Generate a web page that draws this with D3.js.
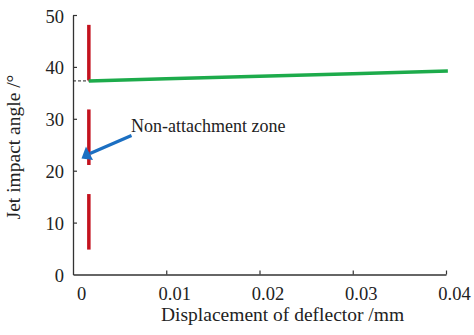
<!DOCTYPE html>
<html>
<head>
<meta charset="utf-8">
<script src="https://cdn.jsdelivr.net/npm/d3@7"></script>
<style>
  body { margin: 0; background: #fff; }
  text { font-family: "Liberation Serif", "Times New Roman", serif; fill: #222; }
</style>
</head>
<body>
<div id="chart"></div>
<script>
// values
const xTicks = [0, 0.01, 0.02, 0.03, 0.04]
const yTicks = [0, 10, 20, 30, 40, 50]

// red vertical segments at one displacement
const redX = 0.0017
const redSegments = [[37.4, 48.1], [21.1, 31.8], [4.8, 15.5]]

// green curve
const greenX = [0.0017, 0.01, 0.02, 0.03, 0.0402]
const greenY = [37.3, 37.7, 38.2, 38.7, 39.2]

const dashedY = 37.3
const note = "Non-attachment zone"

const width = 474, height = 335
const margin = {top: 15, right: 28, bottom: 60.5, left: 73}

const svg = d3.select("#chart")
  .append("svg")
    .attr("width", width)
    .attr("height", height)

const x = d3.scaleLinear()
  .domain([0, 0.04])
  .range([margin.left, width - margin.right])

const y = d3.scaleLinear()
  .domain([0, 50])
  .range([height - margin.bottom, margin.top])

// X axis
const xAxis = svg.append("g")
  .attr("transform", `translate(0, ${y(0)})`)
  .call(d3.axisBottom(x).tickValues(xTicks).tickSizeInner(-4).tickSizeOuter(0)
    .tickFormat(d => d === 0 ? "0" : d3.format(".2f")(d)))
xAxis.select(".domain").attr("stroke", "#333").attr("stroke-width", 1.3)
xAxis.selectAll(".tick line").attr("stroke", "#333").attr("stroke-width", 1.2)
xAxis.selectAll(".tick text")
  .attr("y", 0).attr("dy", 0)
  .attr("transform", "translate(8, 25.5)")
  .style("font-size", "18.5px")
xAxis.selectAll(".tick").filter(d => d === 0).select("line").remove()

// Y axis
const yAxis = svg.append("g")
  .attr("transform", `translate(${x(0)}, 0)`)
  .call(d3.axisLeft(y).tickValues(yTicks).tickSizeInner(-4).tickSizeOuter(0))
yAxis.select(".domain").attr("stroke", "#333").attr("stroke-width", 1.3)
yAxis.selectAll(".tick line").attr("stroke", "#333").attr("stroke-width", 1.2)
yAxis.selectAll(".tick text")
  .attr("x", -9).attr("dy", "0.38em")
  .style("font-size", "18.5px")
yAxis.selectAll(".tick").filter(d => d === 0).select("line").remove()

// axis titles
svg.append("text")
  .attr("x", 161)
  .attr("y", 321)
  .style("font-size", "19.5px")
  .text("Displacement of deflector /mm")

svg.append("text")
  .attr("transform", `translate(20, 147) rotate(-90)`)
  .attr("text-anchor", "middle")
  .style("font-size", "19.5px")
  .text("Jet impact angle /°")

// dashed guide
svg.append("line")
  .attr("x1", x(0)).attr("x2", x(redX))
  .attr("y1", y(dashedY)).attr("y2", y(dashedY))
  .attr("stroke", "#222")
  .attr("stroke-width", 1)
  .attr("stroke-dasharray", "3,2")

// red bars
svg.selectAll("line.red")
  .data(redSegments)
  .join("line")
    .attr("class", "red")
    .attr("x1", x(redX)).attr("x2", x(redX))
    .attr("y1", d => y(d[0])).attr("y2", d => y(d[1]))
    .attr("stroke", "#c3121e")
    .attr("stroke-width", 3.5)

// green line
const line = d3.line()
  .x((d, i) => x(greenX[i]))
  .y(d => y(d))
svg.append("path")
  .datum(greenY)
  .attr("d", line)
  .attr("fill", "none")
  .attr("stroke", "#1dab4b")
  .attr("stroke-width", 3.5)

// annotation arrow
svg.append("line")
  .attr("x1", 131.5).attr("y1", 135.5)
  .attr("x2", 90).attr("y2", 153.5)
  .attr("stroke", "#1b6fc2")
  .attr("stroke-width", 3.2)
svg.append("path")
  .attr("d", "M81.5,158.5 L86,146.5 L93,160 Z")
  .attr("fill", "#1b6fc2")

svg.append("text")
  .attr("x", 131)
  .attr("y", 132)
  .style("font-size", "18px")
  .text(note)
</script>
</body>
</html>
